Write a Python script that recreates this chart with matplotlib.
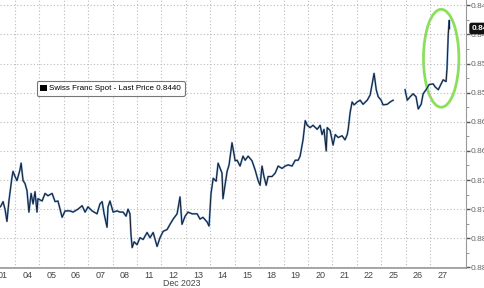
import numpy as np
import matplotlib.pyplot as plt
from matplotlib.patches import Ellipse

plt.rcParams["font.family"] = ["Liberation Sans", "DejaVu Sans"]

# trading-day position (0 = start of Dec 01) and USD/CHF price
t = [0.39, 0.43, 0.51, 0.59, 0.67, 0.75, 0.88, 0.92, 1.00, 1.08, 1.20, 1.25, 1.33, 1.41,
     1.49, 1.57, 1.66, 1.74, 1.82, 1.90, 1.94, 2.11, 2.23, 2.35, 2.52, 2.64, 2.76, 2.93,
     3.05, 3.25, 3.38, 3.58, 3.75, 3.87, 3.99, 4.16, 4.36, 4.48, 4.57, 4.65, 4.77, 4.81,
     4.89, 5.02, 5.18, 5.30, 5.43, 5.55, 5.63, 5.71, 5.75, 5.80, 5.88, 6.00, 6.12, 6.25,
     6.41, 6.53, 6.66, 6.82, 6.94, 7.07, 7.23, 7.35, 7.48, 7.64, 7.76, 7.84, 7.97, 8.09,
     8.25, 8.46, 8.58, 8.70, 8.87, 8.95, 9.03, 9.12, 9.24, 9.32, 9.48, 9.52, 9.69, 9.77,
     9.89, 10.02, 10.10, 10.22, 10.34, 10.43, 10.55, 10.71, 10.84, 10.96, 11.04, 11.12,
     11.20, 11.29, 11.37, 11.53, 11.66, 11.78, 11.94, 12.07, 12.19, 12.35, 12.48, 12.60,
     12.68, 12.76, 12.80, 12.89, 12.97, 13.09, 13.21, 13.38, 13.50, 13.58, 13.66, 13.75,
     13.79, 13.91, 14.03, 14.12, 14.24, 14.40, 14.52, 14.61, 14.65, 14.73, 14.81, 14.89,
     15.02, 15.14, 15.26, 15.43, 15.55, 15.63, 15.71, 15.80, 15.88, 16.00, 16.08, 16.25,
     16.37, 16.49, 16.70, 16.98, 17.07, 17.19, 17.31, 17.43, 17.52, 17.64, 17.72, 17.84,
     17.97, 18.13, 18.21, 18.34, 18.46, 18.54, 18.66, 18.70, 18.75, 18.79, 18.80]
price = [0.8746, 0.8744, 0.8737, 0.8750, 0.8771, 0.8736, 0.8694, 0.8685, 0.8694, 0.8701,
         0.8683, 0.8671, 0.8701, 0.8706, 0.8718, 0.8755, 0.8723, 0.8741, 0.8720, 0.8755,
         0.8732, 0.8736, 0.8723, 0.8727, 0.8723, 0.8737, 0.8736, 0.8764, 0.8753, 0.8753,
         0.8755, 0.8750, 0.8744, 0.8755, 0.8746, 0.8753, 0.8758, 0.8741, 0.8737, 0.8758,
         0.8781, 0.8746, 0.8736, 0.8755, 0.8753, 0.8755, 0.8755, 0.8762, 0.8750, 0.8758,
         0.8793, 0.8816, 0.8806, 0.8811, 0.8799, 0.8802, 0.8790, 0.8799, 0.8790, 0.8814,
         0.8799, 0.8788, 0.8785, 0.8776, 0.8767, 0.8758, 0.8729, 0.8776, 0.8762, 0.8755,
         0.8758, 0.8758, 0.8767, 0.8764, 0.8772, 0.8779, 0.8723, 0.8697, 0.8702, 0.8671,
         0.8688, 0.8732, 0.8685, 0.8674, 0.8636, 0.8667, 0.8666, 0.8676, 0.8659, 0.8666,
         0.8659, 0.8667, 0.8683, 0.8701, 0.8709, 0.8676, 0.8694, 0.8709, 0.8694, 0.8694,
         0.8688, 0.8676, 0.8680, 0.8676, 0.8674, 0.8676, 0.8666, 0.8666, 0.8659, 0.8641,
         0.8631, 0.8598, 0.8606, 0.8610, 0.8606, 0.8613, 0.8606, 0.8622, 0.8613, 0.8650,
         0.8610, 0.8615, 0.8640, 0.8622, 0.8627, 0.8624, 0.8631, 0.8622, 0.8613, 0.8584,
         0.8566, 0.8571, 0.8566, 0.8563, 0.8570, 0.8563, 0.8554, 0.8536, 0.8517, 0.8545,
         0.8557, 0.8563, 0.8571, 0.8570, 0.8566, 0.8563, np.nan, 0.8545, 0.8563, 0.8557,
         0.8552, 0.8557, 0.8578, 0.8570, 0.8552, 0.8545, 0.8536, 0.8535, 0.8540, 0.8545,
         0.8535, 0.8528, 0.8531, 0.8508, 0.8449, 0.8426, 0.8440]

day_labels = ["01", "04", "05", "06", "07", "08", "11", "12", "13", "14",
              "15", "18", "19", "20", "21", "22", "25", "26", "27"]
y_ticks = [0.840, 0.845, 0.850, 0.855, 0.860, 0.865, 0.870, 0.875, 0.880, 0.885]
last_price = 0.8440

fig = plt.figure(figsize=(4.85, 2.88), dpi=100)
ax = fig.add_axes([0.0, 0.0694, 0.961, 0.9306])

ax.plot(t, price, color="#6d9bd0", lw=1.4, solid_joinstyle="round")
ax.plot(t, price, color="#151c2a", lw=0.7)

ax.set_xlim(0.385, 19.48)
ax.set_ylim(0.8851, 0.8391)

# grid at day boundaries, labels centred on days
ax.set_xticks(range(1, len(day_labels)))
ax.set_xticklabels([])
ax.set_xticks([i + 0.5 for i in range(len(day_labels))], minor=True)
ax.set_xticklabels(day_labels, minor=True)
ax.tick_params(axis="x", which="major", length=0)
ax.tick_params(axis="x", which="minor", length=0, labelsize=6.5,
               labelcolor="#444444", pad=2.5)
ax.grid(axis="x", which="major", color="#bbbbbb", ls=(0, (1, 2)), lw=0.8)

ax.yaxis.tick_right()
ax.set_yticks(y_ticks)
ax.set_yticklabels([f"{v:.3f}" for v in y_ticks])
ax.set_yticks(np.arange(0.8425, 0.885, 0.005), minor=True)
ax.tick_params(axis="y", which="major", length=3, width=1, color="#555555",
               labelsize=6, labelcolor="#666666", pad=0.5)
ax.tick_params(axis="y", which="minor", length=2, color="#888888")
ax.grid(axis="y", which="major", color="#bbbbbb", ls=(0, (1, 2)), lw=0.8)

for s in ["top", "left"]:
    ax.spines[s].set_visible(False)
ax.spines["bottom"].set_color("#999999")
ax.spines["right"].set_color("#999999")
ax.spines["bottom"].set_linewidth(1.2)

ax.text(7.85, -0.058, "Dec 2023", transform=ax.get_xaxis_transform(),
        fontsize=6.3, color="#444444", ha="center", va="center")

# last price tag
ax.text(1.012, ax.transLimits.transform((0, last_price))[1], f"{last_price:.3f}",
        transform=ax.transAxes, fontsize=6, color="white", va="center", ha="left",
        fontweight="bold", clip_on=False,
        bbox=dict(boxstyle="round,pad=0.2", fc="#111111", ec="#111111"))

# legend box
leg = ax.legend([plt.Rectangle((0, 0), 1, 1, fc="black")],
                [f"Swiss Franc Spot - Last Price {last_price:.4f}"],
                loc="upper left", bbox_to_anchor=(0.079, 0.698), fontsize=5.8,
                frameon=True, fancybox=True, handlelength=0.8, handleheight=0.8,
                handletextpad=0.3, borderpad=0.45, borderaxespad=0)
leg.get_frame().set_edgecolor("#555555")
leg.get_frame().set_linewidth(0.8)

# green highlight ring
ax.add_patch(Ellipse((18.46, 0.8491), 1.45, 0.0168, fill=False,
                     ec="#8be05a", lw=2.0))

fig.savefig("out.png", dpi=100)
